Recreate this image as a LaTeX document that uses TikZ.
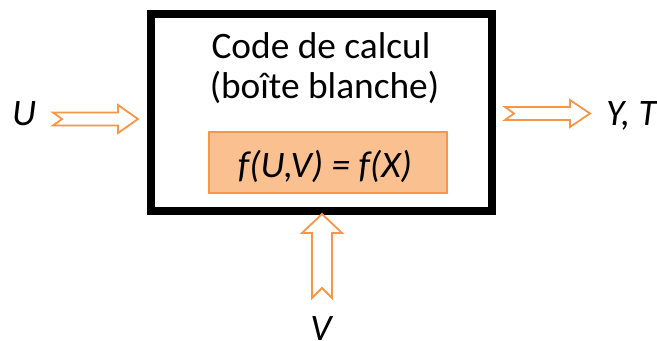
\documentclass[tikz,border=0pt]{standalone}
\usepackage{fontspec}
\setmainfont{Carlito}
\definecolor{arrorange}{HTML}{F79646}
\definecolor{boxfill}{HTML}{FAC090}
\definecolor{boxline}{HTML}{F79646}
\tikzset{
  blockarr/.style={draw=arrorange, fill=white, line width=1.8bp, line join=miter},
  mainbox/.style={draw=black, line width=8bp, fill=white},
  fbox/.style={draw=boxline, fill=boxfill, line width=1.2bp},
  txt/.style={font=\fontsize{37.5}{44}\selectfont, inner sep=0pt},
  itxt/.style={font=\fontsize{37.5}{44}\selectfont\itshape, inner sep=0pt},
}
\begin{document}
\begin{tikzpicture}[x=1bp,y=-1bp]
\useasboundingbox (0,0) rectangle (657,340);
% main box
\draw[mainbox] (151,14) rectangle (492,211);
\node[txt, anchor=base] (title1) at (321,58) {Code de calcul};
\node[txt, anchor=base] (title2) at (324.5,98) {(boîte blanche)};
\node[fbox, minimum width=238bp, minimum height=61bp, inner sep=0pt] (f) at (328,162.5) {};
\node[itxt] (ftxt) at (325,166.5) {f(U,V) = f(X)};
% U arrow
\draw[blockarr] (53,112.5) -- (118,112.5) -- (118,105) -- (138,119) -- (118,133) -- (118,125.5) -- (53,125.5) -- (62,119) -- cycle;
\node[itxt, anchor=base] (U) at (24,125) {U};
% Y,T arrow
\draw[blockarr] (505,107) -- (570,107) -- (570,100) -- (590,113.5) -- (570,127) -- (570,120) -- (505,120) -- (514,113.5) -- cycle;
\node[itxt, anchor=base west] (YT) at (606,125) {Y, T};
% V arrow
\draw[blockarr] (312,298) -- (312,233) -- (302,233) -- (322,214) -- (342,233) -- (332,233) -- (332,298) -- (322,288) -- cycle;
\node[itxt, anchor=base] (V) at (321,340) {V};
\end{tikzpicture}
\end{document}
